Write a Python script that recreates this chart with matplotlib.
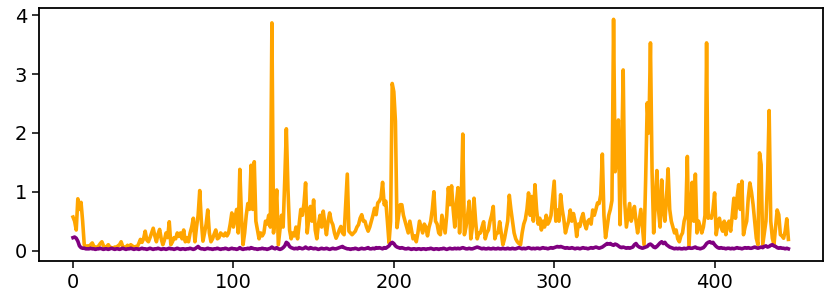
import matplotlib.pyplot as plt

# values, one per step (0..446)
orange_vals = [
    0.57, 0.5, 0.35, 0.88, 0.7, 0.82, 0.5, 0.1, 0.05, 0.08,
    0.06, 0.1, 0.13, 0.07, 0.05, 0.06, 0.08, 0.12, 0.15, 0.08,
    0.05, 0.07, 0.1, 0.06, 0.05, 0.04, 0.06, 0.05, 0.08, 0.1,
    0.15, 0.07, 0.05, 0.06, 0.09, 0.06, 0.1, 0.08, 0.05, 0.07,
    0.06, 0.12, 0.19, 0.14, 0.2, 0.33, 0.18, 0.15, 0.22, 0.3,
    0.38, 0.25, 0.15, 0.28, 0.36, 0.2, 0.1, 0.18, 0.3, 0.22,
    0.49, 0.1, 0.15, 0.22, 0.2, 0.3, 0.24, 0.3, 0.2, 0.35,
    0.15, 0.22, 0.15, 0.3, 0.4, 0.55, 0.15, 0.4, 0.6, 1.02,
    0.5, 0.16, 0.3, 0.45, 0.69, 0.3, 0.15, 0.2, 0.28, 0.35,
    0.2, 0.22, 0.3, 0.27, 0.25, 0.3, 0.25, 0.3, 0.45, 0.64,
    0.4, 0.55, 0.7, 0.3, 1.38, 0.6, 0.1, 0.3, 0.6, 0.8,
    0.7, 1.45, 0.7, 1.51, 0.5, 0.35, 0.2, 0.3, 0.25, 0.3,
    0.5, 0.45, 0.6, 0.4, 3.87, 0.3, 0.6, 1.03, 0.1, 0.35,
    0.6, 0.4, 1.2, 2.07, 1.05, 0.35, 0.2, 0.3, 0.25, 0.4,
    0.2, 0.45, 0.7, 0.6, 0.8, 1.15, 0.3, 0.55, 0.75, 0.5,
    0.86, 0.35, 0.2, 0.45, 0.6, 0.4, 0.67, 0.45, 0.27, 0.5,
    0.64, 0.5, 0.44, 0.3, 0.21, 0.27, 0.35, 0.41, 0.3, 0.27,
    0.8, 1.3, 0.33, 0.3, 0.27, 0.3, 0.33, 0.4, 0.44, 0.55,
    0.61, 0.5, 0.5, 0.4, 0.33, 0.4, 0.5, 0.6, 0.72, 0.61,
    0.81, 0.84, 0.9, 1.16, 0.78, 0.84, 0.5, 0.13, 0.5, 2.84,
    2.7, 2.2, 0.39, 0.6, 0.78, 0.78, 0.6, 0.5, 0.4, 0.3,
    0.5, 0.35, 0.2, 0.25, 0.15, 0.3, 0.5, 0.4, 0.3, 0.45,
    0.4, 0.25, 0.4, 0.5, 0.7, 1.0, 0.5, 0.45, 0.3, 0.27,
    0.6, 0.45, 0.3, 0.6, 1.07, 0.78, 1.1, 0.7, 0.4, 0.8,
    1.07, 0.3, 0.8, 1.98, 0.27, 0.4, 0.6, 0.84, 0.2, 0.4,
    0.89, 0.5, 0.2, 0.3, 0.3, 0.4, 0.49, 0.2, 0.3, 0.35,
    0.5, 0.6, 0.75, 0.2, 0.3, 0.3, 0.49, 0.3, 0.1, 0.2,
    0.35, 0.5, 0.94, 0.7, 0.5, 0.3, 0.2, 0.15, 0.12, 0.1,
    0.3, 0.45, 0.53, 0.7, 0.98, 0.6, 0.92, 0.5, 1.12, 0.7,
    0.45, 0.55, 0.35, 0.5, 0.4, 0.6, 0.45, 0.5, 0.6, 0.9,
    1.18, 0.5, 0.69, 0.5, 0.95, 0.7, 0.53, 0.3, 0.41, 0.5,
    0.69, 0.5, 0.63, 0.5, 0.24, 0.45, 0.41, 0.55, 0.63, 0.45,
    0.37, 0.5, 0.53, 0.45, 0.69, 0.6, 0.7, 0.81, 0.8, 0.95,
    1.64, 0.6, 0.22, 0.4, 0.6, 0.7, 0.85, 3.93, 1.34, 1.6,
    2.22, 0.44, 1.5, 3.07, 0.8, 0.4, 0.6, 0.8, 0.5, 0.6,
    0.75, 0.5, 0.3, 0.5, 0.7, 0.4, 0.1, 1.2, 2.51, 2.0,
    3.53, 1.34, 0.3, 0.8, 1.36, 0.7, 0.4, 1.2, 0.7, 0.5,
    0.9, 1.39, 0.7, 0.5, 0.4, 0.3, 0.35, 0.2, 0.15, 0.25,
    0.3, 0.5, 0.6, 1.6, 0.05, 0.6, 1.16, 0.5, 1.3, 0.3,
    0.5, 0.4, 0.3, 0.4, 0.6, 3.53, 0.55, 0.58, 0.55, 0.7,
    0.98, 0.27, 0.45, 0.55, 0.4, 0.33, 0.5, 0.27, 0.45, 0.5,
    0.33, 0.6, 0.89, 0.55, 0.9, 1.12, 0.7, 1.18, 0.27, 0.4,
    0.5, 0.9, 1.15, 0.99, 0.78, 0.5, 0.21, 0.1, 1.66, 1.46,
    0.1, 0.3, 0.5, 1.2, 2.38, 0.5, 0.21, 0.1, 0.4, 0.69,
    0.61, 0.27, 0.25, 0.21, 0.33, 0.54, 0.19,
]

purple_vals = [
    0.22, 0.23, 0.21, 0.16, 0.08, 0.05, 0.04, 0.04, 0.03, 0.03,
    0.03, 0.04, 0.03, 0.03, 0.02, 0.03, 0.03, 0.04, 0.03, 0.02,
    0.03, 0.03, 0.02, 0.03, 0.04, 0.03, 0.02, 0.03, 0.03, 0.02,
    0.03, 0.04, 0.03, 0.02, 0.03, 0.03, 0.04, 0.03, 0.02, 0.03,
    0.03, 0.02, 0.03, 0.04, 0.03, 0.03, 0.02, 0.03, 0.04, 0.03,
    0.02, 0.03, 0.03, 0.04, 0.03, 0.02, 0.03, 0.03, 0.02, 0.03,
    0.04, 0.03, 0.03, 0.02, 0.03, 0.04, 0.03, 0.02, 0.03, 0.03,
    0.02, 0.03, 0.03, 0.04, 0.03, 0.02, 0.03, 0.05, 0.07, 0.04,
    0.03, 0.03, 0.02, 0.03, 0.04, 0.03, 0.03, 0.02, 0.03, 0.03,
    0.04, 0.03, 0.02, 0.03, 0.03, 0.04, 0.03, 0.02, 0.03, 0.04,
    0.03, 0.03, 0.02, 0.03, 0.05, 0.03, 0.02, 0.03, 0.03, 0.04,
    0.03, 0.05, 0.04, 0.03, 0.03, 0.02, 0.03, 0.03, 0.04, 0.03,
    0.03, 0.02, 0.03, 0.04, 0.06, 0.04, 0.03, 0.05, 0.03, 0.02,
    0.03, 0.05, 0.08, 0.14, 0.12, 0.07, 0.05, 0.04, 0.03, 0.04,
    0.03, 0.05, 0.04, 0.03, 0.04, 0.06, 0.04, 0.03, 0.05, 0.04,
    0.03, 0.04, 0.03, 0.02, 0.03, 0.04, 0.03, 0.03, 0.04, 0.03,
    0.02, 0.03, 0.04, 0.03, 0.03, 0.04, 0.05, 0.06, 0.07, 0.05,
    0.04, 0.03, 0.03, 0.02, 0.03, 0.03, 0.04, 0.03, 0.02, 0.03,
    0.04, 0.03, 0.03, 0.04, 0.05, 0.03, 0.03, 0.04, 0.03, 0.05,
    0.04, 0.05, 0.04, 0.03, 0.05, 0.04, 0.06, 0.08, 0.12, 0.14,
    0.12, 0.08, 0.06, 0.05, 0.04, 0.05, 0.04, 0.03, 0.03, 0.04,
    0.03, 0.02, 0.03, 0.03, 0.02, 0.03, 0.03, 0.02, 0.03, 0.03,
    0.02, 0.03, 0.03, 0.04, 0.03, 0.02, 0.03, 0.03, 0.02, 0.03,
    0.03, 0.04, 0.03, 0.02, 0.03, 0.04, 0.03, 0.03, 0.04, 0.03,
    0.04, 0.03, 0.04, 0.05, 0.04, 0.03, 0.03, 0.04, 0.03, 0.03,
    0.04, 0.05, 0.06, 0.05, 0.04, 0.03, 0.04, 0.03, 0.03, 0.04,
    0.03, 0.03, 0.04, 0.03, 0.03, 0.04, 0.03, 0.03, 0.04, 0.03,
    0.03, 0.04, 0.03, 0.03, 0.04, 0.03, 0.03, 0.04, 0.05, 0.04,
    0.03, 0.04, 0.03, 0.04, 0.05, 0.04, 0.03, 0.04, 0.03, 0.04,
    0.04, 0.03, 0.04, 0.05, 0.04, 0.04, 0.03, 0.04, 0.05, 0.04,
    0.05, 0.06, 0.07, 0.06, 0.07, 0.06, 0.05, 0.04, 0.05, 0.04,
    0.04, 0.05, 0.04, 0.03, 0.04, 0.04, 0.03, 0.04, 0.05, 0.04,
    0.04, 0.03, 0.04, 0.05, 0.04, 0.05, 0.06, 0.05, 0.04, 0.05,
    0.06, 0.08, 0.1, 0.12, 0.11, 0.12, 0.1, 0.09, 0.11, 0.1,
    0.08, 0.06, 0.05, 0.06, 0.05, 0.04, 0.05, 0.04, 0.05, 0.06,
    0.1, 0.12, 0.08, 0.06, 0.05, 0.04, 0.05, 0.06, 0.07, 0.1,
    0.11, 0.09, 0.06, 0.05, 0.07, 0.1, 0.13, 0.15, 0.12, 0.14,
    0.1, 0.08, 0.06, 0.05, 0.04, 0.03, 0.04, 0.03, 0.04, 0.03,
    0.03, 0.04, 0.03, 0.04, 0.05, 0.04, 0.04, 0.05, 0.06, 0.04,
    0.04, 0.03, 0.04, 0.05, 0.08, 0.12, 0.14, 0.15, 0.13, 0.14,
    0.1, 0.07, 0.05, 0.04, 0.05, 0.04, 0.04, 0.03, 0.04, 0.04,
    0.03, 0.04, 0.03, 0.04, 0.05, 0.04, 0.04, 0.03, 0.04, 0.05,
    0.04, 0.05, 0.04, 0.04, 0.05, 0.06, 0.05, 0.04, 0.05, 0.06,
    0.05, 0.07, 0.08, 0.06, 0.07, 0.09, 0.1, 0.08, 0.07, 0.05,
    0.04, 0.05, 0.04, 0.04, 0.03, 0.04, 0.03,
]

x_orange = range(len(orange_vals))
x_purple = range(len(purple_vals))

fig = plt.figure(figsize=(8.3, 3.03), dpi=100)
ax = fig.add_axes([0.047, 0.139, 0.945, 0.834])
ax.plot(x_orange, orange_vals, color='orange', lw=2.6)
ax.plot(x_purple, purple_vals, color='purple', lw=2.6)

ax.set_xlim(-21.2, 467.8)
ax.set_ylim(-0.175, 4.12)
ax.set_xticks([0, 100, 200, 300, 400])
ax.set_yticks([0, 1, 2, 3, 4])
ax.tick_params(labelsize=14, length=5, width=1.1)
for s in ax.spines.values():
    s.set_linewidth(1.3)

fig.savefig('out.png', dpi=100)
